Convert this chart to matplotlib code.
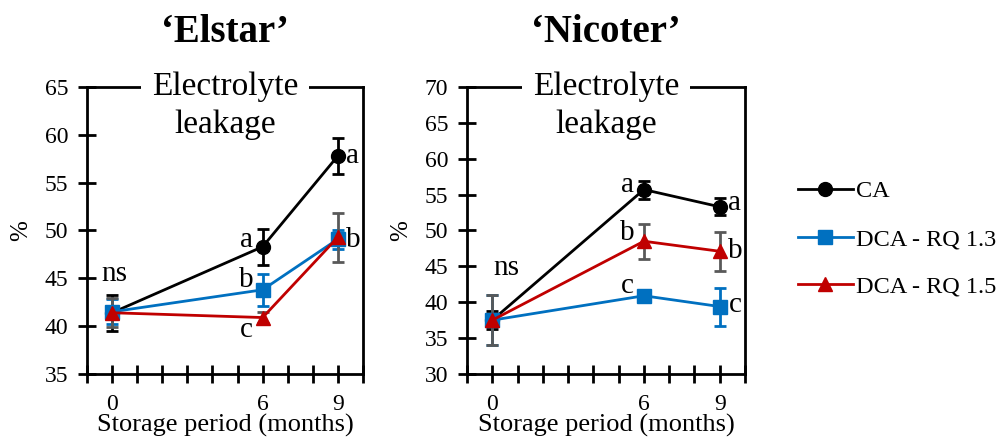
import matplotlib
matplotlib.use("Agg")
import matplotlib.pyplot as plt

plt.rcParams['font.family'] = ['Liberation Serif', 'DejaVu Serif']

months = [0, 6, 9]
series = ['CA', 'DCA - RQ 1.3', 'DCA - RQ 1.5']
colors = ['#000000', '#0070C0', '#C00000']
err_colors = ['#000000', '#0070C0', '#595959']
markers = ['o', 's', '^']

# Elstar
elstar_mean = [[41.4, 48.3, 57.8], [41.5, 43.8, 49.1], [41.4, 40.9, 49.3]]
elstar_err = [[1.9, 1.9, 1.85], [1.3, 1.7, 1.0], [1.5, 0.6, 2.55]]
elstar_letters = [(0.1, 45.4, 'ns'), (5.36, 49.0, 'a'), (5.36, 44.8, 'b'),
                  (5.36, 39.6, 'c'), (9.6, 57.8, 'a'), (9.6, 49.0, 'b')]

# Nicoter
nicoter_mean = [[37.5, 55.7, 53.3], [37.5, 40.9, 39.4], [37.5, 48.5, 47.1]]
nicoter_err = [[1.3, 1.25, 1.2], [3.5, 0.3, 2.65], [3.5, 2.45, 2.7]]
nicoter_letters = [(0.55, 44.75, 'ns'), (5.36, 56.3, 'a'), (5.36, 49.6, 'b'),
                   (5.36, 42.2, 'c'), (9.6, 53.8, 'a'), (9.6, 47.1, 'b'),
                   (9.6, 39.6, 'c')]


def draw(ax, means, errs, letters, ylim, title):
    for m, e, c, ec, mk, lab in zip(means, errs, colors, err_colors, markers, series):
        ax.errorbar(months, m, yerr=e, fmt='none', ecolor=ec, elinewidth=2,
                    capsize=4, capthick=2, zorder=3)
        ax.plot(months, m, color=c, marker=mk, markersize=10, linewidth=2,
                label=lab, zorder=4)
    for x, y, t in letters:
        ax.text(x, y, t, ha='center', va='center', fontsize=21)
    ax.set_xlim(-1, 10)
    ax.set_ylim(*ylim)
    ax.set_yticks(range(ylim[0], ylim[1] + 1, 5))
    ax.set_xticks(range(-1, 11))
    ax.set_xticklabels(['' if i not in months else str(i) for i in range(-1, 11)])
    ax.tick_params(axis='both', direction='inout', length=13, width=2,
                   labelsize=17)
    ax.tick_params(axis='x', pad=8)
    ax.tick_params(axis='y', pad=7)
    for s in ax.spines.values():
        s.set_linewidth(2)
    ax.set_ylabel('%', fontsize=18, labelpad=9)
    ax.set_xlabel('Storage period (months)', fontsize=19, labelpad=-1)
    ax.text(0.5, 1.0, 'Electrolyte', transform=ax.transAxes, ha='center',
            va='center', fontsize=24, zorder=10, clip_on=False,
            bbox=dict(fc='white', ec='none', pad=8))
    ax.text(0.5, 0.87, 'leakage', transform=ax.transAxes, ha='center',
            va='center', fontsize=24, zorder=10)
    bb = ax.get_position()
    ax.figure.text((bb.x0 + bb.x1) / 2, 1 - 32 / 437, title, ha='center',
                   va='center', fontsize=28, fontweight='bold')


fig = plt.figure(figsize=(10, 4.37), dpi=100)
ax1 = fig.add_axes([0.087, 0.1442, 0.276, 0.6568])
ax2 = fig.add_axes([0.467, 0.1442, 0.278, 0.6568])

draw(ax1, elstar_mean, elstar_err, elstar_letters, (35, 65), '\u2018Elstar\u2019')
draw(ax2, nicoter_mean, nicoter_err, nicoter_letters, (30, 70), '\u2018Nicoter\u2019')

handles, labels = ax1.get_legend_handles_labels()
fig.legend(handles, labels, loc='center left', bbox_to_anchor=(0.798, 1 - 239 / 437),
           frameon=False, fontsize=17.5, handlelength=2.25, handletextpad=0.12,
           labelspacing=1.05, borderaxespad=0, borderpad=0)

fig.savefig('out.png', dpi=100)
